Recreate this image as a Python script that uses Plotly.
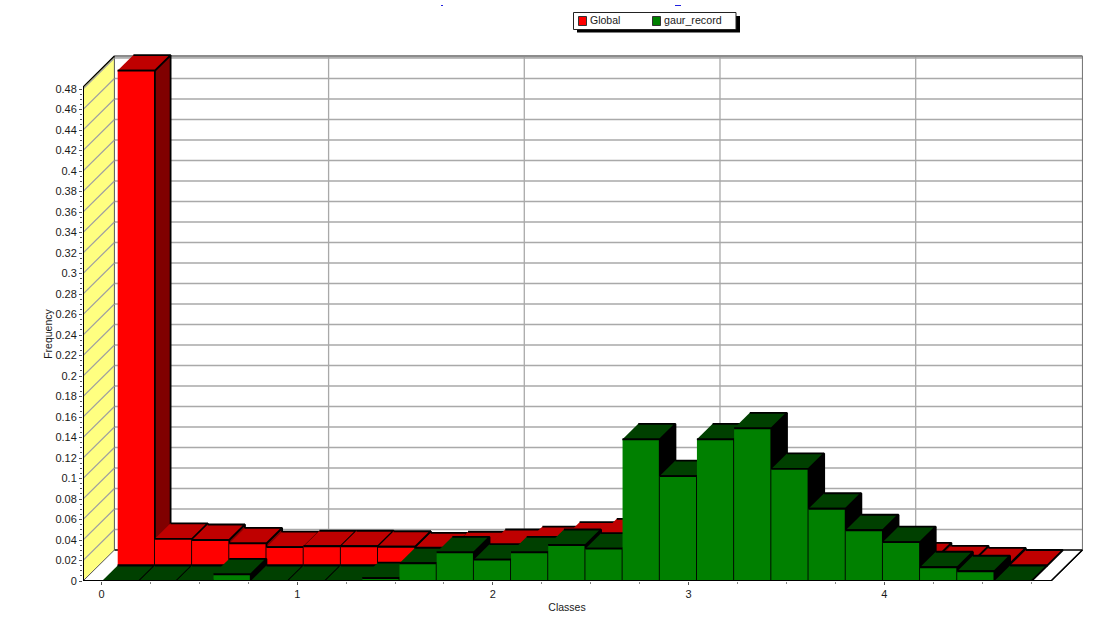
import plotly.graph_objects as go

class_starts = [0.0, 0.19, 0.38, 0.57, 0.76, 0.95, 1.14, 1.33, 1.52, 1.71, 1.90, 2.09, 2.28,
                2.47, 2.66, 2.85, 3.04, 3.23, 3.42, 3.61, 3.80, 3.99, 4.18, 4.37, 4.56]
global_freq = [0.4829, 0.026, 0.0249, 0.0215, 0.0179, 0.0188, 0.0188, 0.0183, 0.0168, 0.0178,
               0.020, 0.0229, 0.0271, 0.0304, 0.034, 0.030, 0.028, 0.024, 0.020, 0.015,
               0.010, 0.007, 0.0041, 0.0021, 0.0]
gaur_freq = [0.0, 0.0, 0.0, 0.0065, 0.0, 0.0, 0.0, 0.0029, 0.0173, 0.028, 0.0208, 0.028, 0.0351,
             0.0315, 0.1382, 0.1024, 0.1382, 0.149, 0.1093, 0.0705, 0.0495, 0.038, 0.0134, 0.0095, 0.0]
y_ticks = [0, 0.02, 0.04, 0.06, 0.08, 0.1, 0.12, 0.14, 0.16, 0.18, 0.2, 0.22, 0.24, 0.26, 0.28,
           0.3, 0.32, 0.34, 0.36, 0.38, 0.4, 0.42, 0.44, 0.46, 0.48]
y_labels = [str(v) for v in y_ticks]
y_minor = [a + b for a in y_ticks[:-1] for b in (0.005, 0.01, 0.015)]
x_ticks = [0, 1, 2, 3, 4]
x_minor = [0.25, 0.5, 0.75, 1.25, 1.5, 1.75, 2.25, 2.5, 2.75, 3.25, 3.5, 3.75, 4.25, 4.5, 4.75]
series_names = ["Global", "gaur_record"]

# Scale of the front plane
X_UNIT = 195.7    # px per class unit
Y_UNIT = 1025.0   # px per frequency unit
X_LEFT = -0.0945  # front plane left end
X_FRONT_END = 4.852
Y_WALL_TOP = 0.4819
BIN_W = 0.19
DX = 15.7 / X_UNIT   # depth of one row
DY = 15.5 / Y_UNIT
START = 0.0026
LW = 1.8
TEXT = "#1a1a1a"

fig = go.Figure()


def poly(xs, ys, fill, line="black", lw=LW, name=None):
    fig.add_trace(go.Scatter(x=xs, y=ys, xaxis="x2", yaxis="y2", mode="lines", fill="toself", fillcolor=fill,
                             line=dict(color=line, width=lw), hoverinfo="skip", name=name,
                             showlegend=False))


def lines(segments, color, lw):
    xs, ys = [], []
    for (a, b, c, d) in segments:
        xs += [a, c, None]
        ys += [b, d, None]
    fig.add_trace(go.Scatter(x=xs, y=ys, xaxis="x2", yaxis="y2", mode="lines", line=dict(color=color, width=lw),
                             hoverinfo="skip", showlegend=False))


# carries the visible front-plane axes
fig.add_trace(go.Scatter(x=[None], y=[None], mode="lines", hoverinfo="skip", showlegend=False))

wx, wy = 2 * DX, 2 * DY
# floor
poly([X_LEFT, X_FRONT_END, X_FRONT_END + wx, X_LEFT + wx], [0, 0, wy, wy], "white", lw=1.2)
# back wall grid
lines([(X_LEFT + wx, v + wy, X_FRONT_END + wx, v + wy) for v in y_ticks[1:]], "#a9a9a9", 1.3)
lines([(t + wx, wy, t + wx, Y_WALL_TOP + wy) for t in x_ticks[1:]], "#a9a9a9", 1.3)
lines([(X_LEFT + wx, Y_WALL_TOP + wy, X_FRONT_END + wx, Y_WALL_TOP + wy)], "#8c8c8c", 2.2)
lines([(X_FRONT_END + wx, wy, X_FRONT_END + wx, Y_WALL_TOP + wy)], "#707070", 1)
lines([(X_LEFT + wx, wy, X_FRONT_END + wx, wy)], "black", 1)
# left wall
poly([X_LEFT, X_LEFT + wx, X_LEFT + wx, X_LEFT], [0, wy, Y_WALL_TOP + wy, Y_WALL_TOP],
     "#ffff80", line="#555555", lw=1)
lines([(X_LEFT, v, X_LEFT + wx, v + wy) for v in y_ticks[1:]], "#a0a0a0", 1.2)


def row(values, x0, y0, face, top, side, name):
    for s, v in zip(class_starts, values):
        l = x0 + s
        r = l + BIN_W
        # side, top and front faces in data units
        if v > 0:
            poly([r, r + DX, r + DX, r], [y0, y0 + DY, y0 + v + DY, y0 + v], side, name=name)
        poly([l, r, r + DX, l + DX], [y0 + v, y0 + v, y0 + v + DY, y0 + v + DY], top, name=name)
        if v > 0:
            poly([l, r, r, l], [y0, y0, y0 + v, y0 + v], face, name=name)


row(global_freq, START + DX, DY, "#ff0000", "#bf0000", "#800000", series_names[0])
row(gaur_freq, START, 0, "#008000", "#004000", "#000000", series_names[1])
# front axis lines
lines([(X_LEFT, 0, X_FRONT_END, 0)], "black", 2)
lines([(X_LEFT, 0, X_LEFT, Y_WALL_TOP)], "black", 2)
lines([(X_FRONT_END, 0, X_FRONT_END + wx, wy)], "black", 1.2)
lines([(X_LEFT, Y_WALL_TOP, X_LEFT + wx, Y_WALL_TOP + wy)], "black", 1.2)

W, H = 1101, 636
L, R, T, B = 83, 16, 54, 55
PW, PH = W - L - R, H - T - B
FRONT_W = (X_FRONT_END - X_LEFT) * X_UNIT
FRONT_H = Y_WALL_TOP * Y_UNIT


def px(x):
    return (x - L) / PW


def py(y):
    return (H - B - y) / PH


def rect(x0, y0, x1, y1, fill, line=None):
    return dict(type="rect", xref="paper", yref="paper", x0=px(x0), x1=px(x1), y0=py(y1), y1=py(y0),
                fillcolor=fill, line=dict(color=line or fill, width=1 if line else 0), layer="above")


legend_shapes = [
    rect(577, 16, 740, 32.5, "black"),
    rect(573.5, 12.5, 736, 29.5, "white", "#222222"),
    rect(578.5, 16.5, 586.5, 25.5, "#ff0000", "#333333"),
    rect(652.5, 16.5, 660.5, 25.5, "#008000", "#333333"),
    # clipped ends of the title above the page edge
    rect(441, 5, 443, 6, "#2020e0"),
    rect(675, 5, 681, 6, "#2020e0"),
]
legend_labels = [
    dict(text=series_names[0], xref="paper", yref="paper", x=px(587.5), y=py(20), xanchor="left", yanchor="middle",
         showarrow=False, font=dict(size=10.5, color=TEXT)),
    dict(text=series_names[1], xref="paper", yref="paper", x=px(661.5), y=py(20), xanchor="left", yanchor="middle",
         showarrow=False, font=dict(size=10.7, color=TEXT)),
]

fig.update_layout(
    width=W, height=H, autosize=False,
    margin=dict(l=L, r=R, t=T, b=B, pad=0),
    paper_bgcolor="white", plot_bgcolor="white",
    font=dict(family="Liberation Sans, Arial, sans-serif", size=11, color=TEXT),
    showlegend=False,
    shapes=legend_shapes,
    annotations=legend_labels,
    xaxis=dict(domain=[0, FRONT_W / PW], range=[X_LEFT, X_FRONT_END], tickvals=x_ticks,
               ticktext=[str(t) for t in x_ticks], anchor="y",
               ticks="outside", ticklen=3, tickcolor="#555555", showgrid=False, zeroline=False, showline=False,
               minor=dict(tickvals=x_minor, ticks="outside", ticklen=2, tickcolor="#888888"),
               title=dict(text="Classes", standoff=4, font=dict(size=10.5))),
    yaxis=dict(domain=[0, FRONT_H / PH], range=[0, Y_WALL_TOP], tickvals=y_ticks, ticktext=y_labels, anchor="x",
               ticks="outside", ticklen=3, tickcolor="#555555", showgrid=False, zeroline=False, showline=False,
               minor=dict(tickvals=y_minor, ticks="outside", ticklen=2, tickcolor="#555555"),
               title=dict(text="Frequency", standoff=0, font=dict(size=10.5))),
    xaxis2=dict(domain=[0, 1], range=[X_LEFT, X_LEFT + PW / X_UNIT], visible=False, anchor="y2"),
    yaxis2=dict(domain=[0, 1], range=[0, PH / Y_UNIT], visible=False, anchor="x2"),
)
fig.write_html("out.html", config=dict(displayModeBar=False),
               post_script="document.body.style.margin='0';")
